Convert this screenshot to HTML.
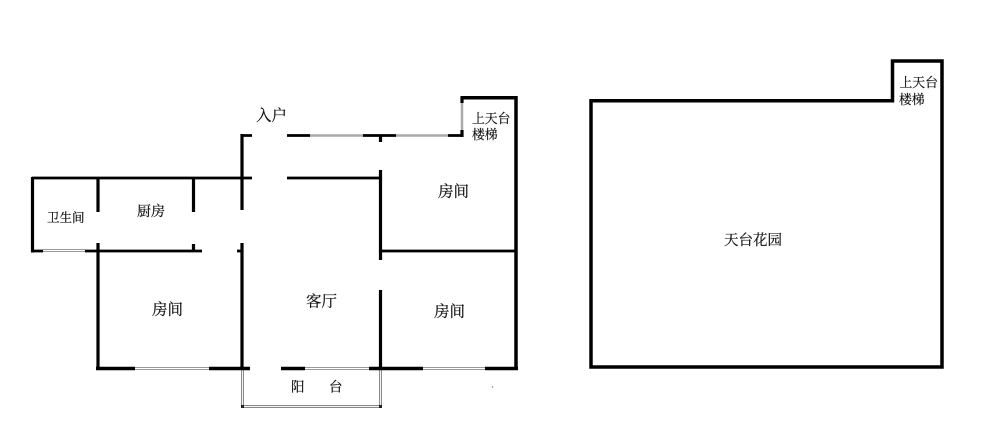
<!DOCTYPE html>
<html>
<head>
<meta charset="utf-8">
<style>
html,body{margin:0;padding:0;background:#fff;}
svg{display:block;}
text{font-family:"Liberation Serif","Noto Serif CJK SC",serif;fill:#111;stroke:#111;stroke-width:0.2;dominant-baseline:central;}
.k{stroke:#000;fill:none;}
.g{stroke:#aaa;stroke-width:2.5;fill:none;}
</style>
</head>
<body>
<svg width="1000" height="428" viewBox="0 0 1000 428" xmlns="http://www.w3.org/2000/svg">
<rect width="1000" height="428" fill="#fff"/>
<!-- windows -->
<path class="g" d="M310 135.500H363M396 135.500H448M462 103V130"/>
<path stroke="#999" stroke-width="3" fill="none" d="M43 250.500H85M135 368.500H209M305 368.500H369M423 368.500H485"/>
<path stroke="#fff" stroke-width="1" fill="none" d="M43 250.500H85M135 368.500H209M305 368.500H369M423 368.500H485"/>
<!-- balcony -->
<path stroke="#888" stroke-width="3" fill="none" d="M242.500 370V406.500H380.500V370"/>
<path stroke="#f4f4f4" stroke-width="1" fill="none" d="M242.500 370V406.500H380.500V370"/>
<rect x="241" y="405" width="3" height="3" fill="#222"/>
<rect x="379" y="405" width="3" height="3" fill="#222"/>
<!-- thin walls -->
<path class="k" stroke-width="2.800" d="M32 178H252M287 178H381M32 251H43M85 251H202M237 251H242M381 251H517M287 135.500H310M363 135.500H396M448 135.500H463M242 135.500H252"/>
<!-- thick walls -->
<path class="k" stroke-width="3.200" d="M32.500 177V252.500M98 178V212M98 243V370M193.500 178V212M193.500 244V251M242 134V210M242 243V370M380.500 135V142M380.500 170V260M380.500 290V370M462 97V103M462 130V137"/>
<path class="k" stroke-width="3.500" d="M460.500 97.800H517.500M516 96V370M96 368.500H135M209 368.500H250M281 368.500H305M369 368.500H423M485 368.500H518"/>
<!-- roof -->
<path class="k" stroke-width="3.500" d="M591 100.700H892.500V61H942V367H591Z"/>
<circle cx="492.500" cy="387" r="0.700" fill="#777"/>
<!-- labels -->
<text x="256" y="116" font-size="15.500">入户</text>
<text x="472" y="119" font-size="12.800">上天台</text>
<text x="472" y="135" font-size="12.800">楼梯</text>
<text x="438" y="192" font-size="15.500">房间</text>
<text x="47" y="218" font-size="12.500">卫生间</text>
<text x="137" y="212.500" font-size="14">厨房</text>
<text x="152" y="310" font-size="15.500">房间</text>
<text x="306" y="302" font-size="15.500">客厅</text>
<text x="434" y="312" font-size="15.500">房间</text>
<text x="291" y="387" font-size="13.500">阳</text>
<text x="329" y="387" font-size="13.500">台</text>
<text x="899.500" y="83" font-size="12.800">上天台</text>
<text x="899" y="100" font-size="12.800">楼梯</text>
<text x="724" y="241" font-size="14.500">天台花园</text>
</svg>
</body>
</html>
